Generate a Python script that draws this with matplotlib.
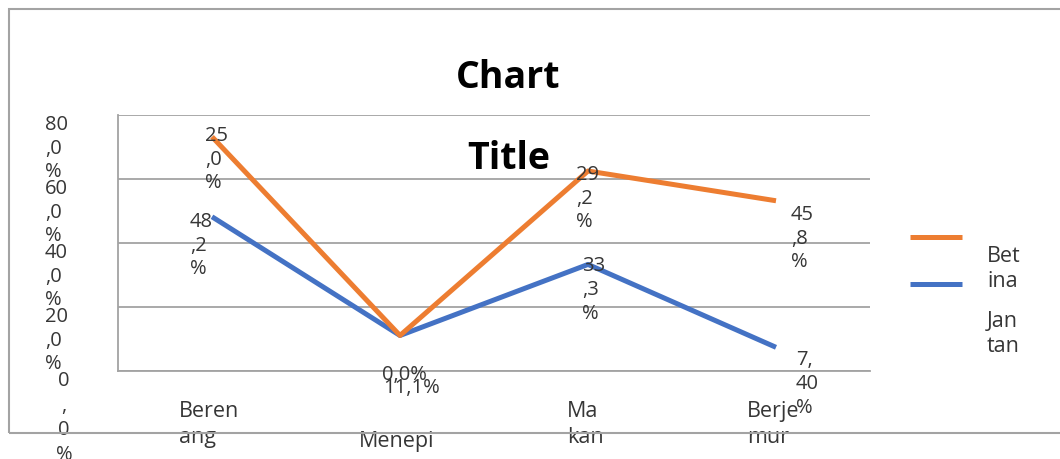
import matplotlib
matplotlib.use('Agg')
import matplotlib.pyplot as plt
import matplotlib.transforms as mtransforms
from matplotlib.lines import Line2D
from matplotlib.patches import Rectangle

# data (stacked line chart: Betina is drawn on top of Jantan)
categories = ['Beren\nang', 'Menepi', 'Ma\nkan', 'Berje\nmur']
jantan = [48.2, 11.1, 33.3, 7.4]
betina = [25.0, 0.0, 29.2, 45.8]
jantan_labels = ['48\n,2\n%', '11,1%', '33\n,3\n%', '7,\n40\n%']
betina_labels = ['25\n,0\n%', '0,0%', '29\n,2\n%', '45\n,8\n%']
yticks = [0, 20, 40, 60, 80]
ytick_labels = ['0\n,\n0\n%', '20\n,0\n%', '40\n,0\n%', '60\n,0\n%', '80\n,0\n%']
series_names = ['Bet\nina', 'Jan\ntan']

betina_stacked = [j + b for j, b in zip(jantan, betina)]
x = list(range(len(categories)))

plt.rcParams['font.family'] = ['Open Sans', 'DejaVu Sans']
ORANGE = '#ED7D31'
BLUE = '#4472C4'
GRID = '#a3a3a3'
TXT = '#363636'
FS = 14.5
LS = 1.25

W, H = 1060, 459
fig = plt.figure(figsize=(W / 100, H / 100), dpi=100)
ax = fig.add_axes([118 / W, 1 - 371 / H, 752 / W, 256 / H])

# outer chart frame
fig.patches.append(Rectangle((9 / W, 1 - 433 / H), 1.2, 424 / H, transform=fig.transFigure,
                             fill=False, ec=GRID, lw=1.5))

ax.plot(x, jantan, color=BLUE, lw=3.6, solid_capstyle='butt', zorder=3)
ax.plot(x, betina_stacked, color=ORANGE, lw=3.6, solid_capstyle='butt', zorder=4)

ax.set_xlim(-0.5, 3.5)
ax.set_ylim(0, 80)
ax.set_yticks(yticks)
ax.set_xticks([])
ax.tick_params(left=False, labelleft=False)
ax.yaxis.grid(True, color=GRID, lw=1.3)
ax.set_axisbelow(True)
for s in ['top', 'right']:
    ax.spines[s].set_visible(False)
for s in ['left', 'bottom']:
    ax.spines[s].set_color(GRID)
    ax.spines[s].set_linewidth(1.3)

# y tick labels (wrapped, Excel-like)
ytrans = mtransforms.blended_transform_factory(ax.transAxes, ax.transData)
for v, lbl in zip(yticks, ytick_labels):
    if v == 0:
        ax.text(-0.072, v, lbl, transform=ytrans, ha='center', va='top', fontsize=FS,
                linespacing=1.3, color=TXT)
    else:
        ax.text(-0.097, v, lbl, transform=ytrans, ha='left', va='top', fontsize=FS,
                linespacing=LS, multialignment='left', color=TXT)

# category labels
xtrans = mtransforms.blended_transform_factory(ax.transData, ax.transAxes)
for i, lbl in enumerate(categories):
    y = -0.233 if '\n' not in lbl else -0.119
    ax.annotate(lbl, (i, y), xycoords=xtrans, xytext=(-3, 0), textcoords='offset pixels',
                ha='center', va='top', multialignment='left', fontsize=15.5,
                linespacing=1.3, color=TXT)

# data labels
jantan_off = [(-22, -5), (-17, 43), (-6, -8), (20, 3)]
betina_off = [(-7, -11), (-18, 30), (-12, -6), (15, 4)]
for i in x:
    dx, dy = jantan_off[i]
    ax.annotate(jantan_labels[i], (i, jantan[i]), xytext=(dx, -dy), textcoords='offset pixels',
                ha='left', va='top', multialignment='left', fontsize=FS, linespacing=LS,
                color=TXT, zorder=5)
    dx, dy = betina_off[i]
    ax.annotate(betina_labels[i], (i, betina_stacked[i]), xytext=(dx, -dy),
                textcoords='offset pixels', ha='left', va='top', multialignment='left',
                fontsize=FS, linespacing=LS, color=TXT, zorder=5)

ax.set_title('Chart\nTitle', x=0.519, y=1.1875, va='top', fontsize=27, fontweight='bold',
             linespacing=2.49, color='#000000')

# legend: keys from the library, text placed separately (Excel wraps it oddly)
handles = [Line2D([], [], color=ORANGE, lw=3.6, solid_capstyle='butt'),
           Line2D([], [], color=BLUE, lw=3.6, solid_capstyle='butt')]
ax.legend(handles, [' ', ' '], loc='upper left', bbox_to_anchor=(1.0532, 0.552), frameon=False,
          borderpad=0, borderaxespad=0, handlelength=2.89, handletextpad=0,
          labelspacing=1.57, fontsize=13)
ax.text(1.1556, 0.488, series_names[0], transform=ax.transAxes, ha='left', va='top',
        fontsize=15.5, linespacing=LS, color=TXT)
ax.text(1.1556, 0.234, series_names[1], transform=ax.transAxes, ha='left', va='top',
        fontsize=15.5, linespacing=LS, color=TXT)

fig.savefig('out.png', dpi=100)
